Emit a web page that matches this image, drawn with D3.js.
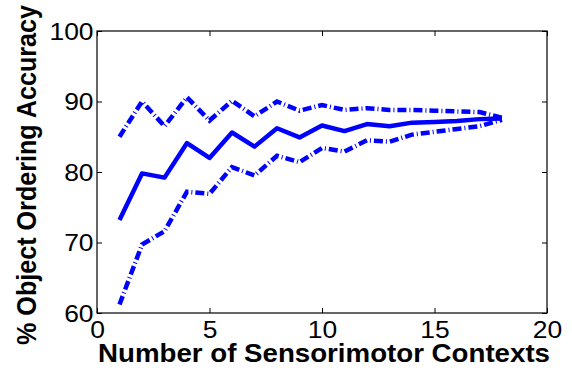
<!DOCTYPE html>
<html><head><meta charset="utf-8">
<script src="https://cdn.jsdelivr.net/npm/d3@7"></script>
<style>body{margin:0;background:#fff}svg{display:block}text{font-family:"Liberation Sans",Arial,sans-serif}</style>
</head><body><div id="chart"></div>
<script>
const contexts = [1,2,3,4,5,6,7,8,9,10,11,12,13,14,15,16,17,18];
const meanAcc  = [73.2,79.8,79.2,84.1,82.0,85.6,83.6,86.2,84.9,86.6,85.8,86.8,86.5,87.0,87.1,87.25,87.5,87.6];
const upperAcc = [85.0,90.0,86.5,90.6,87.3,90.1,87.9,90.0,88.7,89.5,88.8,89.05,88.8,88.8,88.7,88.6,88.5,87.7];
const lowerAcc = [61.2,69.7,71.6,77.2,76.9,80.7,79.5,82.3,81.4,83.4,82.9,84.5,84.3,85.3,85.7,86.1,86.5,87.4];
const xTicks = [0,5,10,15,20];
const yTicks = [60,70,80,90,100];

const W=572,H=370;
const svg=d3.select("#chart").append("svg").attr("width",W).attr("height",H);
const x=d3.scaleLinear().domain([0,20]).range([97,547]);
const y=d3.scaleLinear().domain([60,100]).range([313,31]);

svg.append("rect").attr("x",97).attr("y",31).attr("width",450).attr("height",282)
  .attr("fill","none").attr("stroke","#000").attr("stroke-width",1.2);

const axB=d3.axisBottom(x).tickValues(xTicks).tickSize(-5).tickPadding(9);
const axT=d3.axisTop(x).tickValues(xTicks).tickSize(-5).tickFormat("");
const axL=d3.axisLeft(y).tickValues(yTicks).tickSize(-5).tickPadding(3);
const axR=d3.axisRight(y).tickValues(yTicks).tickSize(-5).tickFormat("");
const gB=svg.append("g").attr("transform","translate(0,313)").call(axB);
const gT=svg.append("g").attr("transform","translate(0,31)").call(axT);
const gL=svg.append("g").attr("transform","translate(97,0)").call(axL);
const gR=svg.append("g").attr("transform","translate(547,0)").call(axR);
[gB,gT,gL,gR].forEach(g=>{g.select(".domain").remove();g.selectAll("line").attr("stroke","#000").attr("stroke-width",1);});
gB.selectAll("text").attr("font-size",23).attr("fill","#000").attr("dy","0.71em").attr("transform","scale(1.15,1)");
gL.selectAll("text").attr("font-size",23).attr("fill","#000").attr("dy","0.36em").attr("transform","scale(1.15,1)");

const line=d3.line().x((d,i)=>x(contexts[i])).y(d=>y(d));
[upperAcc,lowerAcc].forEach(s=>{
  svg.append("path").datum(s).attr("d",line).attr("fill","none").attr("stroke","#0000ff")
    .attr("stroke-width",4.5).attr("stroke-dasharray","9,3,1,3");
});
svg.append("path").datum(meanAcc).attr("d",line).attr("fill","none").attr("stroke","#0000ff")
  .attr("stroke-width",4.5).attr("stroke-linejoin","round");

svg.append("text").attr("x",324).attr("y",361.5).attr("text-anchor","middle")
  .attr("font-size",25.5).attr("font-weight","bold").attr("textLength",452).attr("lengthAdjust","spacingAndGlyphs")
  .text("Number of Sensorimotor Contexts");
svg.append("text").attr("transform","translate(36,175) scale(1.15,1) rotate(-90)").attr("text-anchor","middle")
  .attr("font-size",24.5).attr("font-weight","bold").attr("textLength",340).attr("lengthAdjust","spacingAndGlyphs")
  .text("% Object Ordering Accuracy");
</script></body></html>
